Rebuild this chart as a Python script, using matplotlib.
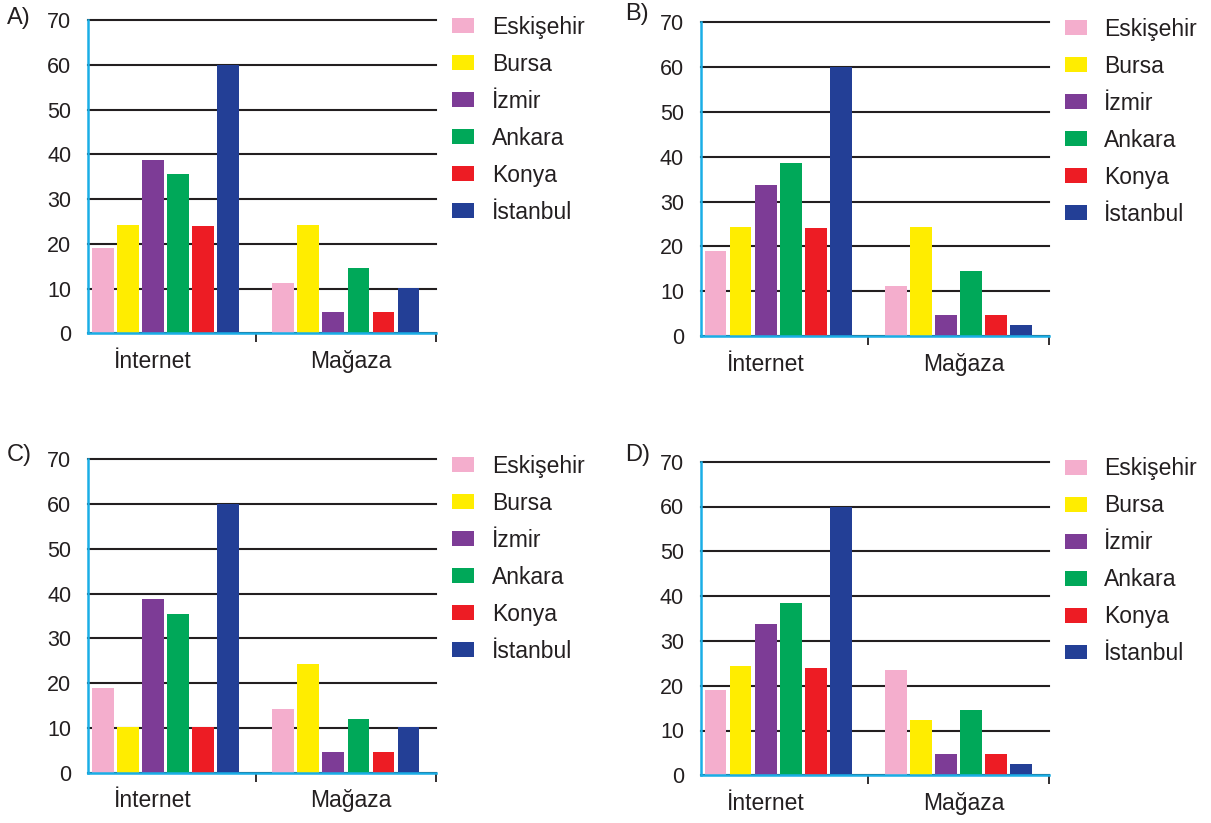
import matplotlib
matplotlib.use("Agg")
import matplotlib.pyplot as plt
import numpy as np

plt.rcParams['font.family'] = ['Liberation Sans', 'DejaVu Sans']

# data
categories = ["İnternet", "Mağaza"]
cities = ["Eskişehir", "Bursa", "İzmir", "Ankara", "Konya", "İstanbul"]
colors = ["#F4AECD", "#FFED00", "#7D3C96", "#00A859", "#ED1C24", "#233F96"]

a_internet = [19, 24.3, 38.8, 35.7, 24, 60]
a_magaza = [11.3, 24.3, 4.7, 14.6, 4.7, 10.2]

b_internet = [19, 24.4, 33.6, 38.5, 24, 60]
b_magaza = [11.2, 24.4, 4.7, 14.6, 4.7, 2.5]

c_internet = [19, 10.2, 38.9, 35.5, 10.2, 60]
c_magaza = [14.3, 24.3, 4.6, 12.0, 4.6, 10.2]

d_internet = [19.1, 24.5, 33.7, 38.5, 24, 60]
d_magaza = [23.6, 12.4, 4.8, 14.6, 4.8, 2.5]

panels = [
    ("A)", a_internet, a_magaza),
    ("B)", b_internet, b_magaza),
    ("C)", c_internet, c_magaza),
    ("D)", d_internet, d_magaza),
]

W, H = 1211, 823
fig = plt.figure(figsize=(W / 100, H / 100), dpi=100)

# axes boxes in pixels: left, top(70 line), bottom(0 line)
boxes = [(88, 20, 333.3), (700.7, 22.3, 336), (88, 459.3, 772.7), (700.7, 461.7, 775.3)]
label_pos = [(7, 18), (625, 14), (7, 455), (625, 455)]
axis_w = 348
cyan = "#1AAEE6"
ink = "#231F20"

for (name, internet, magaza), (lx, ty, by), (px, py) in zip(panels, boxes, label_pos):
    ax = fig.add_axes([lx / W, 1 - by / H, axis_w / W, (by - ty) / H])
    x = np.arange(len(categories))
    pitch = 0.139
    width = 0.12
    handles = []
    for i, city in enumerate(cities):
        vals = [internet[i], magaza[i]]
        h = ax.bar(x + (i - 2.5) * pitch, vals, width, color=colors[i], label=city, zorder=3)
        handles.append(h)

    ax.set_xlim(-0.43, 1.5)
    ax.set_ylim(0, 70)
    ax.set_yticks(range(0, 71, 10))
    ax.yaxis.grid(True, color=ink, linewidth=1.5)
    for gl in ax.yaxis.get_gridlines():
        gl.set_clip_on(False)
    ax.set_axisbelow(True)
    for s in ["top", "right"]:
        ax.spines[s].set_visible(False)
    for s in ["left", "bottom"]:
        ax.spines[s].set_color(cyan)
        ax.spines[s].set_linewidth(1.8)
        ax.spines[s].set_zorder(4)
    ax.tick_params(axis="y", length=0, pad=12, labelsize=15.5, labelcolor=ink)

    ax.set_xticks([-0.07, 1.03])
    ax.set_xticklabels(categories)
    ax.set_xticks([0.5, 1.5], minor=True)
    ax.tick_params(axis="x", which="major", length=0, pad=12, labelsize=16.5, labelcolor=ink)
    ax.tick_params(axis="x", which="minor", length=6.5, width=1.3, color=ink, direction="out")

    ax.legend(handles=handles, loc="upper left", bbox_to_anchor=(1.046, 1.014),
              frameon=False, fontsize=16.5, handlelength=0.96, handleheight=0.61,
              handletextpad=0.77, labelspacing=0.61, borderpad=0, borderaxespad=0,
              labelcolor=ink)

    fig.text(px / W, 1 - py / H, name, fontsize=17, color=ink, va="center", ha="left")

fig.savefig("out.png", dpi=100)
